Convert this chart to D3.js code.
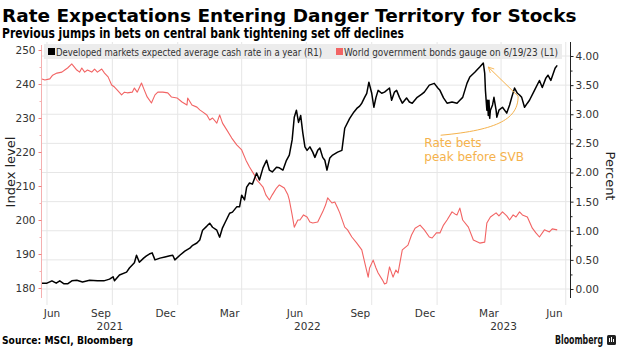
<!DOCTYPE html>
<html>
<head>
<meta charset="utf-8">
<script src="https://cdn.jsdelivr.net/npm/d3@7"></script>
<style>
  html, body { margin: 0; padding: 0; background: #fff; }
  svg { display: block; font-family: "DejaVu Sans", sans-serif; }
</style>
</head>
<body>
<svg id="chart" width="620" height="348"></svg>
<script>
// Developed markets expected average cash rate in a year (R1), percent
const rateDates = [
  '2021-06-24','2021-07-01','2021-07-08','2021-07-14','2021-07-19','2021-07-25','2021-07-30','2021-08-05','2021-08-12','2021-08-20',
  '2021-08-30','2021-09-10','2021-09-19','2021-09-27','2021-10-02','2021-10-04','2021-10-11','2021-10-21','2021-10-25','2021-11-01',
  '2021-11-04','2021-11-08','2021-11-14','2021-11-18','2021-11-22','2021-11-26','2021-11-30','2021-12-07','2021-12-14','2021-12-21',
  '2021-12-25','2021-12-28','2022-01-04','2022-01-11','2022-01-18','2022-01-22','2022-01-28','2022-02-01','2022-02-05','2022-02-11',
  '2022-02-15','2022-02-19','2022-02-25','2022-03-01','2022-03-05','2022-03-09','2022-03-15','2022-03-19','2022-03-25','2022-03-29',
  '2022-04-01','2022-04-05','2022-04-08','2022-04-12','2022-04-16','2022-04-22','2022-04-26','2022-05-01','2022-05-06','2022-05-10',
  '2022-05-14','2022-05-20','2022-05-24','2022-05-29','2022-06-03','2022-06-07','2022-06-11','2022-06-14','2022-06-17','2022-06-20',
  '2022-06-23','2022-06-26','2022-06-29','2022-07-02','2022-07-06','2022-07-10','2022-07-13','2022-07-17','2022-07-20','2022-07-24',
  '2022-07-27','2022-07-30','2022-08-03','2022-08-07','2022-08-14','2022-08-20','2022-08-24','2022-08-31','2022-09-06','2022-09-10',
  '2022-09-14','2022-09-17','2022-09-21','2022-09-24','2022-09-27','2022-10-01','2022-10-04','2022-10-07','2022-10-10','2022-10-15',
  '2022-10-19','2022-10-26','2022-10-29','2022-11-02','2022-11-05','2022-11-09','2022-11-13','2022-11-19','2022-11-23','2022-11-27',
  '2022-12-04','2022-12-10','2022-12-14','2022-12-21','2022-12-28','2023-01-02','2023-01-05','2023-01-10','2023-01-15','2023-01-22',
  '2023-01-29','2023-02-02','2023-02-06','2023-02-12','2023-02-16','2023-02-23','2023-03-02','2023-03-07','2023-03-09','2023-03-10',
  '2023-03-12','2023-03-13','2023-03-14','2023-03-15','2023-03-16','2023-03-17','2023-03-20','2023-03-22','2023-03-25','2023-03-26',
  '2023-03-29','2023-04-03','2023-04-09','2023-04-13','2023-04-16','2023-04-20','2023-04-24','2023-04-27','2023-04-30','2023-05-04',
  '2023-05-08','2023-05-11','2023-05-18','2023-05-25','2023-05-29','2023-06-03','2023-06-06','2023-06-10','2023-06-16','2023-06-19'
];
const rateValues = [
  0.10,0.10,0.14,0.10,0.14,0.09,0.09,0.14,0.15,0.12,
  0.15,0.14,0.14,0.17,0.21,0.14,0.24,0.29,0.36,0.45,
  0.58,0.46,0.53,0.57,0.60,0.62,0.50,0.53,0.55,0.57,
  0.58,0.50,0.58,0.65,0.70,0.75,0.79,0.84,1.01,1.08,
  1.13,1.06,1.01,0.89,1.05,1.15,1.30,1.32,1.41,1.41,
  1.61,1.53,1.75,1.82,1.80,1.99,1.87,2.08,2.21,2.04,
  2.01,2.09,2.08,2.04,2.21,2.30,2.56,2.95,3.07,2.86,
  2.98,2.68,2.44,2.38,2.44,2.35,2.26,2.38,2.42,2.26,
  2.21,2.04,2.25,2.30,2.35,2.38,2.76,2.93,3.04,3.10,
  3.14,3.19,3.29,3.36,3.55,3.36,3.12,3.29,3.41,3.36,
  3.38,3.45,3.24,3.38,3.41,3.29,3.19,3.28,3.21,3.19,
  3.29,3.34,3.38,3.50,3.53,3.45,3.41,3.28,3.19,3.21,
  3.19,3.24,3.29,3.53,3.64,3.72,3.81,3.88,3.70,3.41,
  3.07,3.24,2.98,3.24,2.93,3.07,3.16,3.29,3.07,2.95,
  3.07,3.12,3.02,3.16,3.29,3.45,3.36,3.33,3.29,3.12,
  3.19,3.24,3.41,3.58,3.46,3.62,3.67,3.58,3.79,3.84
];

// World government bonds gauge (L1), index level
const bondDates = [
  '2021-06-24','2021-06-28','2021-07-05','2021-07-09','2021-07-15','2021-07-22','2021-07-26','2021-07-30','2021-08-05','2021-08-06',
  '2021-08-12','2021-08-16','2021-08-19','2021-08-23','2021-08-27','2021-09-02','2021-09-06','2021-09-10','2021-09-16','2021-09-20',
  '2021-09-25','2021-09-30','2021-10-04','2021-10-08','2021-10-14','2021-10-18','2021-10-22','2021-10-29','2021-11-01','2021-11-05',
  '2021-11-11','2021-11-15','2021-11-19','2021-11-25','2021-11-30','2021-12-04','2021-12-11','2021-12-18','2021-12-23','2021-12-31',
  '2022-01-07','2022-01-14','2022-01-15','2022-01-21','2022-01-28','2022-02-01','2022-02-05','2022-02-11','2022-02-15','2022-02-19',
  '2022-02-25','2022-03-01','2022-03-05','2022-03-11','2022-03-18','2022-03-25','2022-04-01','2022-04-07','2022-04-12','2022-04-19',
  '2022-04-22','2022-04-26','2022-05-01','2022-05-05','2022-05-10','2022-05-14','2022-05-20','2022-05-24','2022-05-31','2022-06-05',
  '2022-06-07','2022-06-11','2022-06-14','2022-06-19','2022-06-22','2022-06-27','2022-07-02','2022-07-06','2022-07-10','2022-07-17',
  '2022-07-24','2022-07-28','2022-07-31','2022-08-06','2022-08-10','2022-08-14','2022-08-17','2022-08-24','2022-08-28','2022-09-03',
  '2022-09-10','2022-09-17','2022-09-21','2022-09-26','2022-09-28','2022-10-03','2022-10-07','2022-10-10','2022-10-16','2022-10-19',
  '2022-10-22','2022-10-26','2022-10-31','2022-11-04','2022-11-07','2022-11-13','2022-11-21','2022-11-26','2022-12-01','2022-12-08',
  '2022-12-14','2022-12-21','2022-12-25','2022-12-31','2023-01-05','2023-01-10','2023-01-15','2023-01-22','2023-01-26','2023-01-29',
  '2023-02-02','2023-02-06','2023-02-14','2023-02-21','2023-02-27','2023-03-02','2023-03-09','2023-03-12','2023-03-17','2023-03-25',
  '2023-03-29','2023-04-03','2023-04-09','2023-04-13','2023-04-18','2023-04-22','2023-04-27','2023-05-01','2023-05-08','2023-05-15',
  '2023-05-20','2023-05-25','2023-06-01','2023-06-08','2023-06-12','2023-06-19'
];
const bondValues = [
  241.5,241.2,241.5,242.6,243.2,243.5,244.1,244.7,245.9,245.6,
  244.1,243.5,244.7,243.5,244.1,243.5,244.4,243.5,244.4,243.2,
  242.1,239.7,239.1,238.2,236.8,237.6,237.4,237.6,238.8,237.6,
  240.3,238.2,236.2,234.4,236.8,237.6,237.6,237.4,236.2,235.9,
  234.7,233.8,235.9,233.8,233.2,232.4,231.8,230.9,229.4,230.0,
  228.5,230.9,228.5,226.5,224.1,222.1,220.6,217.6,215.6,213.2,
  211.8,210.9,209.7,207.4,205.9,207.4,209.4,210.3,209.4,207.4,
  205.9,201.5,197.9,200.0,200.0,201.5,200.9,199.4,199.1,199.4,
  202.4,204.4,206.5,205.0,205.3,203.5,202.1,197.9,197.1,195.0,
  193.2,191.2,187.6,183.2,185.9,188.2,185.9,184.4,182.4,181.2,
  181.5,186.2,183.2,185.3,184.4,191.2,192.6,195.6,197.6,198.5,
  197.1,195.0,194.7,196.2,196.2,198.5,200.0,202.4,201.8,201.5,
  203.5,200.0,197.9,194.1,193.5,193.2,193.5,199.1,200.9,202.1,
  201.2,202.4,201.2,200.0,201.5,200.9,202.4,201.5,200.9,197.6,
  196.2,195.0,197.1,196.5,197.4,197.1
];

const indexTicks = [180, 190, 200, 210, 220, 230, 240, 250];
const percentTicks = [0, 0.5, 1, 1.5, 2, 2.5, 3, 3.5, 4];
const monthLabelDates = ['2021-06-15','2021-09-15','2021-12-15','2022-03-15','2022-06-15','2022-09-15','2022-12-15','2023-03-15','2023-06-15'];
const yearLabels = [2021, 2022, 2023];
const legendLabels = [
  'Developed markets expected average cash rate in a year (R1)',
  'World government bonds gauge on 6/19/23 (L1)'
];
// annotation: text anchor and connector points as [date, percent]
const noteLines = ['Rate bets', 'peak before SVB'];
const noteAnchor = ['2022-12-14', 2.44];
const noteCurve = [['2023-01-06', 2.64], ['2023-03-29', 2.73], ['2023-04-25', 2.93], ['2023-04-25', 3.31]];
const noteTip = ['2023-03-14', 3.81];

const parse = d3.timeParse('%Y-%m-%d');
const rateColor = '#000000';
const bondColor = '#f26464';
const noteColor = '#f5b24c';
const margin = { top: 42, right: 50, bottom: 50, left: 42 };
const W = 620, H = 348;
const plotBottom = 298;
const narrow = '"Liberation Sans Narrow", "DejaVu Sans Condensed", "DejaVu Sans", sans-serif';

const svg = d3.select('#chart');

const x = d3.scaleTime()
  .domain([parse('2021-06-24'), parse('2023-07-07')])
  .range([margin.left, W - margin.right]);
const yL = d3.scaleLinear().domain([180, 250]).range([288, 50]);
const yR = d3.scaleLinear().domain([0, 4]).range([289, 56]);

// gridlines
svg.append('g')
  .selectAll('line')
  .data(percentTicks)
  .join('line')
    .attr('x1', margin.left).attr('x2', W - margin.right)
    .attr('y1', d => yR(d)).attr('y2', d => yR(d))
    .attr('stroke', '#e6e6e6');

const quarterTicks = x.ticks(d3.timeMonth.every(3));
svg.append('g')
  .selectAll('line')
  .data(quarterTicks)
  .join('line')
    .attr('x1', d => x(d)).attr('x2', d => x(d))
    .attr('y1', margin.top).attr('y2', 305)
    .attr('stroke', '#e6e6e6');

// legend
const legend = svg.append('g');
legend.append('rect')
  .attr('x', 44).attr('y', 44).attr('width', 518).attr('height', 15)
  .attr('fill', '#ececec');
const legendItems = [
  { label: legendLabels[0], color: rateColor, x: 48, w: 266 },
  { label: legendLabels[1], color: bondColor, x: 336, w: 214 }
];
legendItems.forEach(d => {
  legend.append('rect')
    .attr('x', d.x).attr('y', 48).attr('width', 7).attr('height', 7)
    .attr('fill', d.color);
  legend.append('text')
    .attr('x', d.x + 8).attr('y', 55.5)
    .attr('font-size', 10.5)
    .attr('font-family', narrow)
    .attr('fill', '#333')
    .attr('textLength', d.w)
    .attr('lengthAdjust', 'spacingAndGlyphs')
    .text(d.label);
});

// lines
const line = (scale) => d3.line()
  .x(d => x(d[0]))
  .y(d => scale(d[1]));

svg.append('path')
  .datum(d3.zip(bondDates.map(parse), bondValues))
  .attr('fill', 'none')
  .attr('stroke', bondColor)
  .attr('stroke-width', 1.1)
  .attr('stroke-linejoin', 'round')
  .attr('d', line(yL));

svg.append('path')
  .datum(d3.zip(rateDates.map(parse), rateValues))
  .attr('fill', 'none')
  .attr('stroke', rateColor)
  .attr('stroke-width', 1.5)
  .attr('stroke-linejoin', 'round')
  .attr('d', line(yR));

// left axis (index level)
svg.append('line')
  .attr('x1', 41.5).attr('x2', 41.5).attr('y1', 45).attr('y2', plotBottom)
  .attr('stroke', '#f4b0b0');
const leftAxis = svg.append('g')
  .attr('transform', 'translate(41.5,0)')
  .call(d3.axisLeft(yL).tickValues(indexTicks).tickSize(3).tickPadding(3))
  .call(g => g.select('.domain').remove());
leftAxis.selectAll('line').attr('stroke', '#f08080');
leftAxis.selectAll('text')
  .attr('font-size', 10.5)
  .attr('font-family', 'DejaVu Sans')
  .attr('fill', '#333');
svg.append('g')
  .attr('transform', 'translate(41.5,0)')
  .call(d3.axisLeft(yL).tickValues(indexTicks.slice(1).map(d => d - 5)).tickSize(2).tickFormat(''))
  .call(g => g.select('.domain').remove())
  .selectAll('line').attr('stroke', '#f4b0b0');

// right axis (percent)
svg.append('line')
  .attr('x1', 570.5).attr('x2', 570.5).attr('y1', margin.top).attr('y2', plotBottom)
  .attr('stroke', '#222');
const rightAxis = svg.append('g')
  .attr('transform', 'translate(570.5,0)')
  .call(d3.axisRight(yR).tickValues(percentTicks).tickFormat(d3.format('.2f')).tickSize(3).tickPadding(2))
  .call(g => g.select('.domain').remove());
rightAxis.selectAll('line').attr('stroke', '#222');
rightAxis.selectAll('text')
  .attr('font-size', 10.5)
  .attr('font-family', 'DejaVu Sans')
  .attr('fill', '#333');
svg.append('g')
  .attr('transform', 'translate(570.5,0)')
  .call(d3.axisRight(yR).tickValues(percentTicks.slice(1).map(d => d - 0.25)).tickSize(2).tickFormat(''))
  .call(g => g.select('.domain').remove())
  .selectAll('line').attr('stroke', '#222');

// axis titles
svg.append('text')
  .attr('transform', 'translate(15,172) rotate(-90)')
  .attr('text-anchor', 'middle')
  .attr('font-size', 13)
  .attr('fill', '#222')
  .text('Index level');
svg.append('text')
  .attr('transform', 'translate(606,176) rotate(90)')
  .attr('text-anchor', 'middle')
  .attr('font-size', 13)
  .attr('fill', '#222')
  .text('Percent');

// month and year labels
const monthFmt = d3.timeFormat('%b');
svg.append('g')
  .selectAll('text')
  .data(monthLabelDates.map(parse))
  .join('text')
    .attr('x', d => Math.max(x(d), margin.left + 10))
    .attr('y', 317)
    .attr('text-anchor', 'middle')
    .attr('font-size', 10.5)
    .attr('fill', '#333')
    .text(d => monthFmt(d));

const [d0, d1] = x.domain();
svg.append('g')
  .selectAll('text')
  .data(yearLabels)
  .join('text')
    .attr('x', yr => {
      const a = d3.max([new Date(yr, 0, 1), d0]);
      const b = d3.min([new Date(yr + 1, 0, 1), d1]);
      return (x(a) + x(b)) / 2;
    })
    .attr('y', 330)
    .attr('text-anchor', 'middle')
    .attr('font-size', 10.5)
    .attr('fill', '#333')
    .text(d => d);

// annotation
const pt = d => [x(parse(d[0])), yR(d[1])];
const c = noteCurve.map(pt);
const tip = pt(noteTip);
svg.append('defs').append('marker')
  .attr('id', 'arrow')
  .attr('viewBox', '0 0 10 10')
  .attr('refX', 9).attr('refY', 5)
  .attr('markerWidth', 7).attr('markerHeight', 7)
  .attr('orient', 'auto')
  .append('path')
    .attr('d', 'M1,1 L9,5 L1,9')
    .attr('fill', 'none')
    .attr('stroke', noteColor)
    .attr('stroke-width', 1.2);
svg.append('path')
  .attr('d', `M${c[0]} C${c[1]} ${c[2]} ${c[3]} L${tip}`)
  .attr('fill', 'none')
  .attr('stroke', noteColor)
  .attr('stroke-width', 1)
  .attr('marker-end', 'url(#arrow)');
const [ax, ay] = pt(noteAnchor);
svg.append('text')
  .attr('font-size', 12)
  .attr('fill', noteColor)
  .selectAll('tspan')
  .data(noteLines)
  .join('tspan')
    .attr('x', ax)
    .attr('y', (d, i) => ay + i * 14)
    .text(d => d);

// titles and footer
function fit(sel, w) {
  const len = sel.node().getComputedTextLength();
  sel.attr('font-size', parseFloat(sel.attr('font-size')) * w / len);
  return sel;
}
fit(svg.append('text')
  .attr('x', 2).attr('y', 22)
  .attr('font-size', 20).attr('font-weight', 'bold').attr('fill', '#000')
  .text('Rate Expectations Entering Danger Territory for Stocks'), 575);
svg.append('text')
  .attr('x', 2).attr('y', 38)
  .attr('font-size', 14).attr('font-weight', 'bold').attr('fill', '#000')
  .attr('textLength', 402).attr('lengthAdjust', 'spacingAndGlyphs')
  .text('Previous jumps in bets on central bank tightening set off declines');
svg.append('text')
  .attr('x', 2).attr('y', 344)
  .attr('font-size', 10.5).attr('font-weight', 'bold').attr('fill', '#000')
  .attr('textLength', 131).attr('lengthAdjust', 'spacingAndGlyphs')
  .text('Source: MSCI, Bloomberg');
svg.append('text')
  .attr('x', 555).attr('y', 344)
  .attr('font-size', 12).attr('font-weight', 'bold').attr('fill', '#111')
  .attr('font-family', narrow)
  .attr('textLength', 48).attr('lengthAdjust', 'spacingAndGlyphs')
  .text('Bloomberg');
svg.append('rect')
  .attr('x', 607).attr('y', 335).attr('width', 9).attr('height', 10).attr('rx', 1.5)
  .attr('fill', '#222');
svg.append('path')
  .attr('d', 'M609.5,342 V338 M611.5,342 V337 M613.5,342 V339')
  .attr('stroke', '#fff').attr('stroke-width', 1);
</script>
</body>
</html>
